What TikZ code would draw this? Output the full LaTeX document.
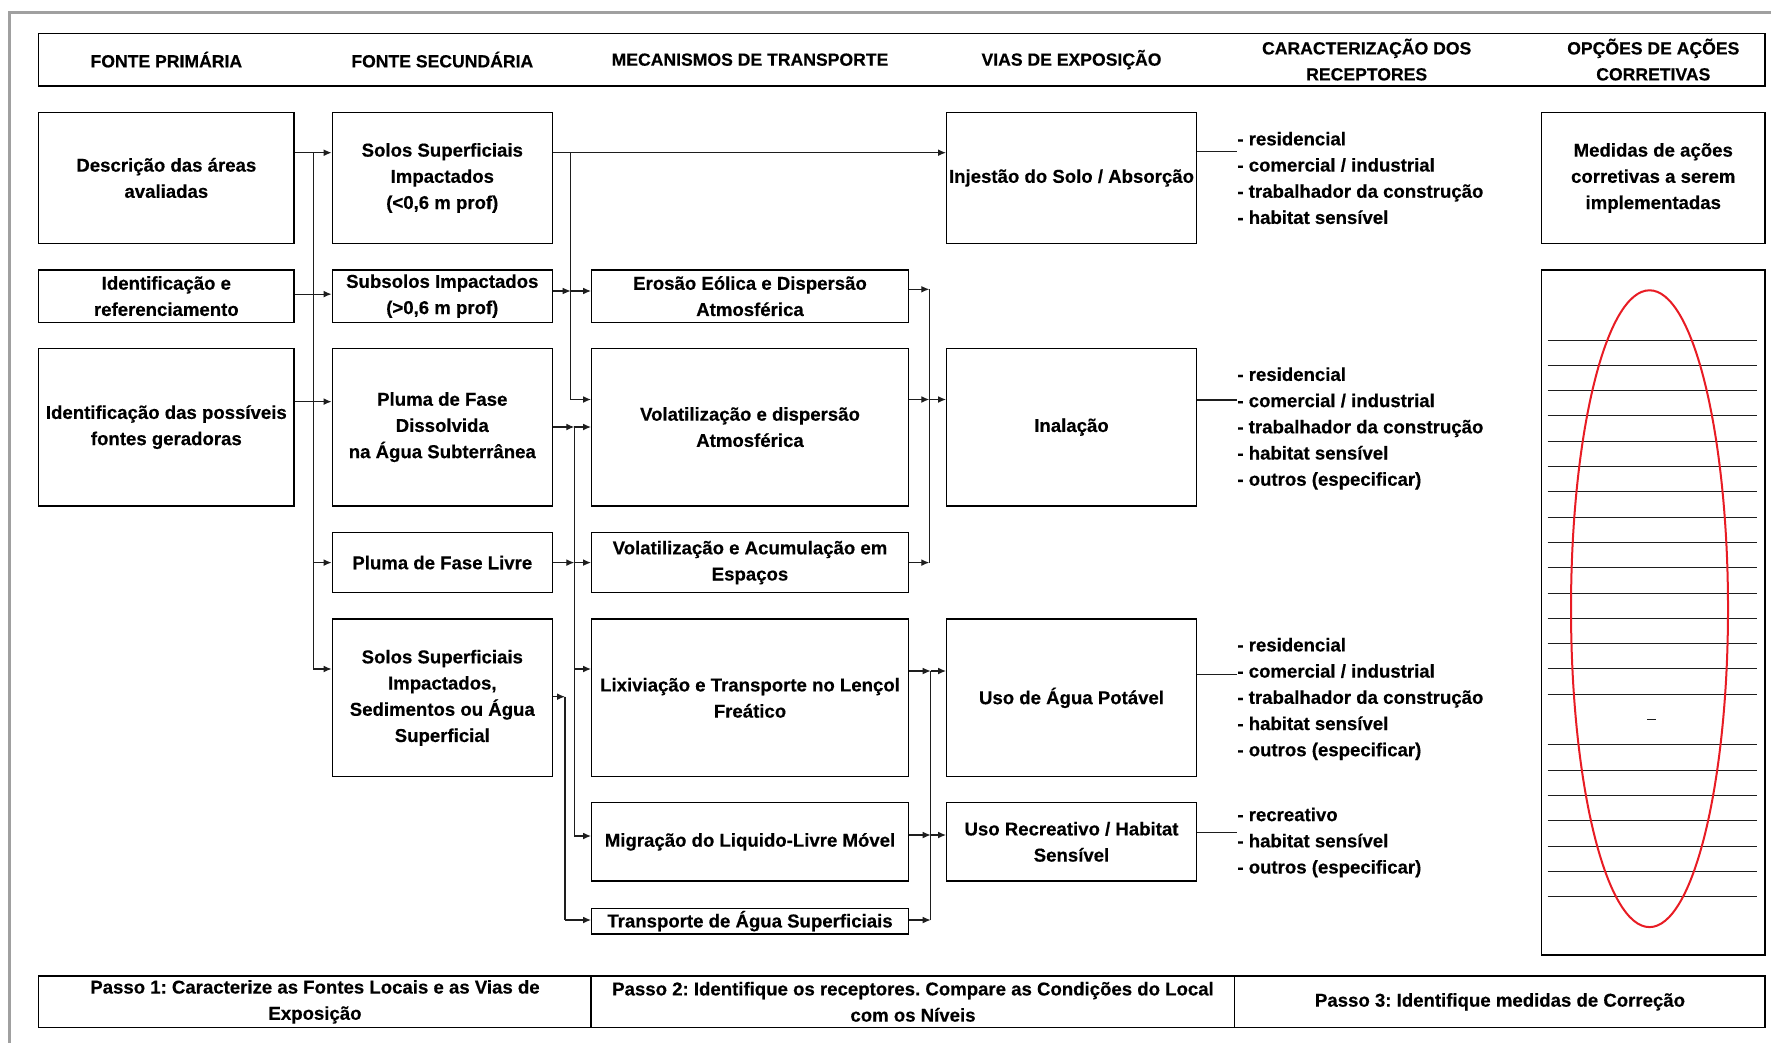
\documentclass[tikz,border=0pt]{standalone}
\usepackage{fontspec}
\setmainfont{Liberation Sans}[BoldFeatures={FakeBold=0.4}]
\usetikzlibrary{arrows.meta,calc}
\definecolor{framegray}{RGB}{160,160,160}
\definecolor{linec}{RGB}{30,30,30}
\definecolor{ovalred}{RGB}{232,28,36}
\newcommand\bodyf{\fontsize{9.3}{13.1}\selectfont\bfseries}
\newcommand\hdrf{\fontsize{8.8}{13}\selectfont\bfseries}
\frenchspacing
\begin{document}
\begin{tikzpicture}[x=0.5pt, y=-0.5pt,
  box/.style={draw=black, line width=0.7pt, inner sep=0pt, align=center, font=\bodyf},
  conn/.style={draw=linec, line width=0.6pt},
  arr/.style={conn, -{Latex[length=4pt,width=3.4pt]}},
  lbl/.style={inner sep=0pt, align=center, font=\hdrf},
  txt/.style={inner sep=0pt, align=center, font=\bodyf},
  recl/.style={inner sep=0pt, align=left, font=\bodyf, anchor=west},
  hline/.style={draw=linec, line width=0.5pt}]
\fill[white] (0,0) rectangle (1771,1043);
\useasboundingbox (0,0) rectangle (1771,1043);
% page frame
\draw[framegray, line width=1.5pt] (9,1043) -- (9,12.3) -- (1771,12.3);

% header
\node[box, minimum width=863.15pt, minimum height=26.35pt] (hdr) at (901.85,59.65) {};
\node[lbl] (h1) at (166.35,59.65) {FONTE PRIMÁRIA};
\node[lbl] (h2) at (442.3,59.65) {FONTE SECUNDÁRIA};
\node[lbl] (h3) at (750,59.65) {MECANISMOS DE TRANSPORTE};
\node[lbl] (h4) at (1071.5,59.65) {VIAS DE EXPOSIÇÃO};
\node[lbl] (h5) at (1366.7,59.65) {CARACTERIZAÇÃO DOS\\RECEPTORES};
\node[lbl] (h6) at (1653.3,59.65) {OPÇÕES DE AÇÕES\\CORRETIVAS};

% column 1
\node[box, minimum width=127.65pt, minimum height=65.7pt] (desc) at (166.35,178) {Descrição das áreas\\avaliadas};
\node[box, minimum width=127.65pt, minimum height=26.15pt] (ident) at (166.35,296.15) {Identificação e\\referenciamento};
\node[box, minimum width=127.65pt, minimum height=78.85pt] (fontes) at (166.35,427.15) {Identificação das possíveis\\fontes geradoras};

% column 2
\node[box, minimum width=110pt, minimum height=65.7pt] (solos) at (442.3,178) {Solos Superficiais\\Impactados\\(<0,6 m prof)};
\node[box, minimum width=110pt, minimum height=26.15pt] (subs) at (442.3,296.15) {Subsolos Impactados\\(>0,6 m prof)};
\node[box, minimum width=110pt, minimum height=78.85pt] (plumaD) at (442.3,427.15) {Pluma de Fase\\Dissolvida\\na Água Subterrânea};
\node[box, minimum width=110pt, minimum height=30.1pt] (plumaL) at (442.3,562.6) {Pluma de Fase Livre};
\node[box, minimum width=110pt, minimum height=78.85pt] (solosSed) at (442.3,697.85) {Solos Superficiais\\Impactados,\\Sedimentos ou Água\\Superficial};

% column 3
\node[box, minimum width=158.3pt, minimum height=26.15pt] (eros) at (750,296.15) {Erosão Eólica e Dispersão\\Atmosférica};
\node[box, minimum width=158.3pt, minimum height=78.85pt] (volD) at (750,427.15) {Volatilização e dispersão\\Atmosférica};
\node[box, minimum width=158.3pt, minimum height=30.1pt] (volA) at (750,562.6) {Volatilização e Acumulação em\\Espaços};
\node[box, minimum width=158.3pt, minimum height=78.85pt] (lix) at (750,697.85) {Lixiviação e Transporte no Lençol\\Freático};
\node[box, minimum width=158.3pt, minimum height=39.15pt] (migr) at (750,841.85) {Migração do Liquido-Livre Móvel};
\node[box, minimum width=158.3pt, minimum height=12.85pt] (transp) at (750,921.15) {Transporte de Água Superficiais};

% column 4
\node[box, minimum width=124.8pt, minimum height=65.7pt] (inj) at (1071.5,178) {Injestão do Solo / Absorção};
\node[box, minimum width=124.8pt, minimum height=78.85pt] (inal) at (1071.5,427.15) {Inalação};
\node[box, minimum width=124.8pt, minimum height=78.85pt] (agua) at (1071.5,697.85) {Uso de Água Potável};
\node[box, minimum width=124.8pt, minimum height=39.15pt] (usoRec) at (1071.5,841.85) {Uso Recreativo / Habitat\\Sensível};

% column 6
\node[box, minimum width=111.75pt, minimum height=65.7pt] (med) at (1653.25,178) {Medidas de ações\\corretivas a serem\\implementadas};
\node[box, minimum width=111.75pt, minimum height=342.5pt] (big) at (1653.25,612.5) {};
\foreach \i in {0,...,22} {
  \ifnum\i=15 \else
    \draw[hline] (1547.7,{340+25.3*\i}) -- (1757.3,{340+25.3*\i});
  \fi
}
\draw[linec, line width=0.8pt] (1647,719.5) -- (1656,719.5);
\draw[ovalred, line width=1pt] (1649.5,608.7) ellipse [x radius=39.25pt, y radius=159.2pt];

% receptor lists
\node[recl] (rl1) at (1237,178) {- residencial\\- comercial / industrial\\- trabalhador da construção\\- habitat sensível};
\node[recl] (rl2) at (1237,428.5) {- residencial\\- comercial / industrial\\- trabalhador da construção\\- habitat sensível\\- outros (especificar)};
\node[recl] (rl3) at (1237,699) {- residencial\\- comercial / industrial\\- trabalhador da construção\\- habitat sensível\\- outros (especificar)};
\node[recl] (rl4) at (1237,842.5) {- recreativo\\- habitat sensível\\- outros (especificar)};

% bottom step table
\node[box, minimum width=863.15pt, minimum height=25.85pt] (bot) at (901.85,1001.85) {};
\draw[black, line width=0.7pt] (591,976) -- (591,1027.7);
\draw[black, line width=0.7pt] (1234.7,976) -- (1234.7,1027.7);
\node[txt] (p1) at (315,1001.85) {Passo 1: Caracterize as Fontes Locais e as Vias de\\Exposição};
\node[txt] (p2) at (913,1001.85) {Passo 2: Identifique os receptores. Compare as Condições do Local\\com os Níveis};
\node[txt] (p3) at (1500,1001.85) {Passo 3: Identifique medidas de Correção};

% ---- connectors: column 1 -> column 2
\draw[arr] ($(desc.east)+(0,-25.3)$) -- ($(solos.west)+(0,-25.3)$);
\draw[arr] ($(ident.east)+(0,-2)$) -- ($(subs.west)+(0,-2)$);
\draw[arr] ($(fontes.east)+(0,-25.5)$) -- ($(plumaD.west)+(0,-25.5)$);
\coordinate (l0t) at (313.3,152.7);
\coordinate (l0m) at (313.3,562.6);
\coordinate (l0b) at (313.3,669);
\draw[conn] (l0t) -- (l0b);
\draw[arr] (l0m) -- (plumaL.west |- l0m);
\draw[arr] (l0b) -- (solosSed.west |- l0b);

% solos -> injestao
\draw[arr] ($(solos.east)+(0,-25.3)$) -- ($(inj.west)+(0,-25.3)$);

% bus A
\coordinate (bA1) at (570.7,152.7);
\coordinate (bA2) at (570.7,291);
\coordinate (bA3) at (570.7,399.5);
\draw[conn] (bA1) -- (bA3);
\draw[arr] (subs.east |- bA2) -- (bA2);
\draw[arr] (bA2) -- (eros.west |- bA2);
\draw[arr] (bA3) -- (volD.west |- bA3);

% bus B
\coordinate (bB1) at (574.3,427);
\coordinate (bB2) at (574.3,562.6);
\coordinate (bB3) at (574.3,669);
\coordinate (bB4) at (574.3,836);
\draw[conn] (bB1) -- (bB4);
\draw[arr] (plumaD.east |- bB1) -- (bB1);
\draw[arr] (bB1) -- (volD.west |- bB1);
\draw[arr] (plumaL.east |- bB2) -- (bB2);
\draw[arr] (bB2) -- (volA.west |- bB2);
\draw[arr] (bB3) -- (lix.west |- bB3);
\draw[arr] (bB4) -- (migr.west |- bB4);

% bus C
\coordinate (bC1) at (565,696.7);
\coordinate (bC2) at (565,920);
\draw[conn] (bC1) -- (bC2);
\draw[arr] (solosSed.east |- bC1) -- (bC1);
\draw[arr] (bC2) -- (transp.west |- bC2);

% bus R1
\coordinate (r1a) at (929.3,289.3);
\coordinate (r1b) at (929.3,399.5);
\coordinate (r1c) at (929.3,562.6);
\draw[conn] (r1a) -- (r1c);
\draw[arr] (eros.east |- r1a) -- (r1a);
\draw[arr] (volD.east |- r1b) -- (r1b);
\draw[arr] (r1b) -- (inal.west |- r1b);
\draw[arr] (volA.east |- r1c) -- (r1c);

% bus R2
\coordinate (r2a) at (930.7,671);
\coordinate (r2b) at (930.7,835);
\coordinate (r2c) at (930.7,920);
\draw[conn] (r2a) -- (r2c);
\draw[arr] (lix.east |- r2a) -- (r2a);
\draw[arr] (r2a) -- (agua.west |- r2a);
\draw[arr] (migr.east |- r2b) -- (r2b);
\draw[arr] (r2b) -- (usoRec.west |- r2b);
\draw[arr] (transp.east |- r2c) -- (r2c);

% exposure route -> receptors
\coordinate (k1) at ($(inj.east)+(0,-26.3)$);
\coordinate (k2) at ($(inal.east)+(0,-27.15)$);
\coordinate (k3) at ($(agua.east)+(0,-23.55)$);
\coordinate (k4) at ($(usoRec.east)+(0,-9.15)$);
\draw[conn] (k1) -- (rl1.west |- k1);
\draw[conn] (k2) -- (rl2.west |- k2);
\draw[conn] (k3) -- (rl3.west |- k3);
\draw[conn] (k4) -- (rl4.west |- k4);
\end{tikzpicture}
\end{document}
